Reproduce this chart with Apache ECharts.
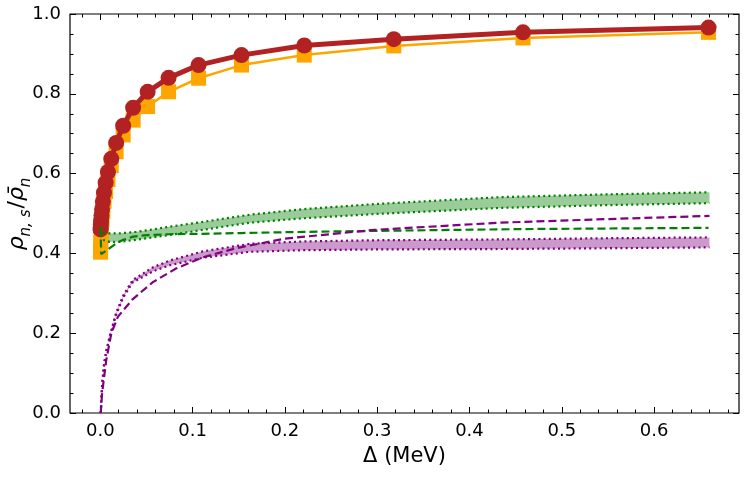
<!DOCTYPE html>
<html>
<head>
<meta charset="utf-8">
<script src="https://cdn.jsdelivr.net/npm/echarts@6/dist/echarts.min.js"></script>
<style>
  html, body { margin: 0; background: #fff; }
  #chart { width: 747px; height: 486px; }
</style>
</head>
<body>
<div id="chart"></div>
<script>
// gap values (MeV) where the two marker curves were computed
const deltaPts = [0.659, 0.458, 0.318, 0.221, 0.153, 0.1065, 0.074, 0.0513, 0.0356, 0.0248, 0.0172,
  0.0119, 0.0083, 0.0058, 0.004, 0.0028, 0.0019, 0.0013, 0.0009, 0.0006, 0.0004, 0.0003]
const redCircles = [0.966, 0.954, 0.937, 0.921, 0.897, 0.872, 0.840, 0.805, 0.765, 0.72, 0.677,
  0.637, 0.604, 0.577, 0.552, 0.53, 0.51, 0.495, 0.482, 0.472, 0.465, 0.46]
const orangeSquares = [0.954, 0.94, 0.92, 0.897, 0.872, 0.839, 0.805, 0.768, 0.734, 0.697, 0.655,
  0.62, 0.585, 0.555, 0.53, 0.505, 0.485, 0.465, 0.445, 0.428, 0.413, 0.403]

// green band (dotted edges) and green dashed curve
const greenX = [0.001, 0.004, 0.01, 0.02, 0.039, 0.057, 0.075, 0.111, 0.162, 0.22, 0.3, 0.433, 0.55, 0.66]
const greenHi = [0.465, 0.452, 0.45, 0.45, 0.454, 0.46, 0.467, 0.479, 0.497, 0.511, 0.524, 0.541, 0.548, 0.553]
const greenLo = [0.447, 0.433, 0.429, 0.429, 0.434, 0.44, 0.446, 0.459, 0.477, 0.488, 0.499, 0.514, 0.521, 0.526]
const greenDashX = [0.0003, 0.001, 0.002, 0.0083, 0.0172, 0.0248, 0.0356, 0.0513, 0.074, 0.1065, 0.153, 0.221, 0.318, 0.458, 0.659]
const greenDashY = [0.465, 0.398, 0.398, 0.41, 0.425, 0.434, 0.442, 0.446, 0.448, 0.449, 0.451, 0.454, 0.457, 0.461, 0.464]

// purple band (dotted edges) and purple dashed curve
const purpleX = [0.0005, 0.002, 0.004, 0.0065, 0.01, 0.017, 0.025, 0.035, 0.057, 0.075, 0.111, 0.162, 0.22, 0.3, 0.433, 0.55, 0.66]
const purpleHi = [0, 0.07, 0.12, 0.155, 0.19, 0.25, 0.295, 0.333, 0.365, 0.382, 0.405, 0.424, 0.43, 0.433, 0.435, 0.438, 0.44]
const purpleLo = [0, 0.07, 0.12, 0.155, 0.188, 0.245, 0.29, 0.327, 0.355, 0.37, 0.389, 0.404, 0.408, 0.41, 0.411, 0.413, 0.415]
const purpleDashX = [0.0005, 0.002, 0.0065, 0.012, 0.019, 0.035, 0.057, 0.082, 0.111, 0.147, 0.2, 0.297, 0.433, 0.55, 0.66]
const purpleDashY = [0, 0.05, 0.133, 0.2, 0.241, 0.285, 0.328, 0.362, 0.39, 0.413, 0.437, 0.459, 0.477, 0.486, 0.494]

// tick positions on the x axis
const xMajor = [0, 0.1, 0.2, 0.3, 0.4, 0.5, 0.6]
const xMinor = [-0.02, 0.02, 0.04, 0.06, 0.08, 0.12, 0.14, 0.16, 0.18, 0.22, 0.24, 0.26, 0.28,
  0.32, 0.34, 0.36, 0.38, 0.42, 0.44, 0.46, 0.48, 0.52, 0.54, 0.56, 0.58, 0.62, 0.64, 0.66, 0.68]

const FONT = 'DejaVu Sans'
const pairs = (xs, ys) => xs.map((x, i) => [x, ys[i]])

function xAxisDef(pos, values, len, labels) {
  return {
    type: 'value', position: pos, min: -0.0328, max: 0.692,
    axisLine: { show: false, onZero: false },
    splitLine: { show: false },
    axisTick: { show: true, inside: true, length: len, customValues: values,
      lineStyle: { color: '#000', width: 1 } },
    axisLabel: labels
      ? { show: true, customValues: values, color: '#000', fontSize: 18, fontFamily: FONT, margin: 9,
          formatter: v => v.toFixed(1) }
      : { show: false }
  }
}

function yAxisDef(pos, labels) {
  return {
    type: 'value', position: pos, min: 0, max: 1, interval: 0.2,
    axisLine: { show: false, onZero: false },
    splitLine: { show: false },
    axisTick: { show: true, inside: true, length: 6, lineStyle: { color: '#000' } },
    minorTick: { show: true, splitNumber: 4, length: 3.5, lineStyle: { color: '#000' } },
    axisLabel: labels
      ? { color: '#000', fontSize: 18, fontFamily: FONT, margin: 9, formatter: v => v.toFixed(1) }
      : { show: false }
  }
}

function bandSeries(xs, lo, hi, fill) {
  return {
    type: 'custom', silent: true, z: 1,
    data: [[xs[0], lo[0]]],
    renderItem: (params, api) => {
      const top = xs.map((x, i) => api.coord([x, hi[i]]))
      const bot = xs.map((x, i) => api.coord([x, lo[i]])).reverse()
      return { type: 'polygon', shape: { points: top.concat(bot) }, style: { fill: fill } }
    }
  }
}

function curve(xs, ys, color, dash) {
  return {
    type: 'line', data: pairs(xs, ys), symbol: 'none', z: 4, silent: true,
    lineStyle: { color: color, width: 2.2, type: dash }
  }
}

const chart = echarts.init(document.getElementById('chart'))
chart.setOption({
  animation: false,
  backgroundColor: '#fff',
  grid: { left: 70, right: 8, top: 14, bottom: 73, outerBoundsMode: 'none',
    show: true, borderColor: '#000', borderWidth: 1.2, backgroundColor: 'transparent' },
  xAxis: [
    Object.assign(xAxisDef('bottom', xMajor, 6, true), {
      name: 'Δ (MeV)', nameLocation: 'middle', nameGap: 33, nameMoveOverlap: false,
      nameTextStyle: { color: '#000', fontSize: 21, fontFamily: FONT }
    }),
    xAxisDef('bottom', xMinor, 3.5, false),
    xAxisDef('top', xMajor, 6, false),
    xAxisDef('top', xMinor, 3.5, false)
  ],
  yAxis: [
    Object.assign(yAxisDef('left', true), {
      name: '{i|ρ}{s|n, s}{n|/}{i|ρ\u0304}{s|n}',
      nameLocation: 'middle', nameRotate: 90, nameGap: 42, nameMoveOverlap: false,
      nameTextStyle: {
        color: '#000', fontFamily: FONT,
        rich: {
          i: { fontSize: 22, fontStyle: 'italic', fontFamily: FONT, color: '#000', verticalAlign: 'bottom', lineHeight: 26 },
          n: { fontSize: 22, fontFamily: FONT, color: '#000', verticalAlign: 'bottom', lineHeight: 26 },
          s: { fontSize: 15, fontStyle: 'italic', fontFamily: FONT, color: '#000', verticalAlign: 'bottom', lineHeight: 16, padding: [0, 1, -6, 0] }
        }
      }
    }),
    yAxisDef('right', false)
  ],
  series: [
    bandSeries(greenX, greenLo, greenHi, 'rgba(0,128,0,0.4)'),
    bandSeries(purpleX, purpleLo, purpleHi, 'rgba(128,0,128,0.4)'),
    {
      type: 'line', data: pairs(deltaPts, orangeSquares), z: 2,
      symbol: 'rect', symbolSize: 15,
      lineStyle: { color: '#ffa500', width: 2.5 },
      itemStyle: { color: '#ffa500' }
    },
    {
      type: 'line', data: pairs(deltaPts, redCircles), z: 3,
      symbol: 'circle', symbolSize: 16,
      lineStyle: { color: '#b22222', width: 5 },
      itemStyle: { color: '#b22222' }
    },
    curve(greenX, greenHi, '#008000', [2, 3.2]),
    curve(greenX, greenLo, '#008000', [2, 3.2]),
    curve(greenDashX, greenDashY, '#008000', [8, 4]),
    curve(purpleX, purpleHi, '#800080', [2, 3.2]),
    curve(purpleX, purpleLo, '#800080', [2, 3.2]),
    curve(purpleDashX, purpleDashY, '#800080', [8, 4])
  ]
})
</script>
</body>
</html>
